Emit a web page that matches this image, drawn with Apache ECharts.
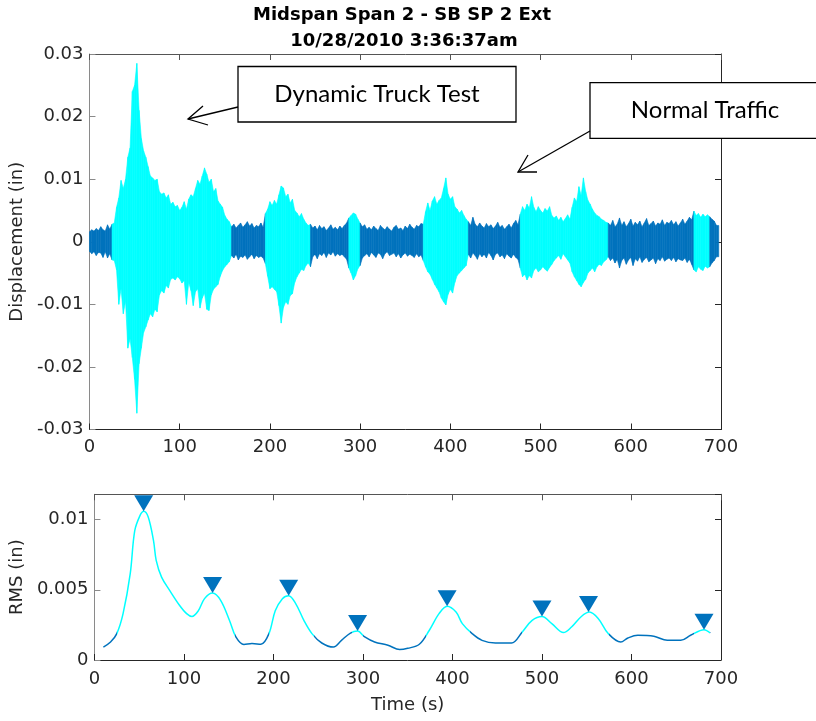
<!DOCTYPE html>
<html>
<head>
<meta charset="utf-8">
<title>Midspan Span 2 - SB SP 2 Ext</title>
<script src="https://cdn.jsdelivr.net/npm/echarts@6/dist/echarts.min.js"></script>
<style>
  html, body { margin: 0; padding: 0; background: #ffffff; }
  #chart { width: 816px; height: 721px; }
</style>
</head>
<body>
<div id="chart"></div>
<script>
// Displacement envelope, one bin every 2.5 s starting at t = 0 (values in 0.001 in)
const binSeconds = 2.5;
const upperMil = [
  1.6,1.9,1.7,2.1,1.8,2.4,1.9,1.7,2.7,2.0,                               // 0 - 22.5
  2.8,3.0,5.5,7.0,9.8,8.5,10.0,13.5,15.0,24.0,                           // 25 - 47.5
  25.0,28.5,21.0,16.5,14.5,13.5,12.0,10.5,10.2,9.8,                      // 50 - 72.5
  10.0,8.0,7.6,7.8,7.0,7.5,6.0,6.3,5.6,5.8,                              // 75 - 97.5
  5.0,5.5,6.4,5.2,6.8,7.5,7.2,8.5,9.8,9.2,                               // 100 - 122.5
  10.5,11.8,10.8,9.5,10.0,8.0,8.5,6.5,6.0,5.5,                           // 125 - 147.5
  4.2,3.6,3.2,                                                           // 150 - 155
  2.4,2.8,2.2,2.6,3.0,2.3,2.7,3.2,2.5,2.9,2.2,2.6,2.4,3.0,2.3,           // 157.5 - 192.5
  4.5,5.2,6.4,5.8,6.6,6.0,7.5,8.9,8.6,7.2,7.6,6.2,6.8,5.0,4.6,4.0,4.5,3.6,3.0,2.6, // 195 - 242.5
  2.8,2.2,2.5,1.9,2.6,2.1,2.4,1.8,2.2,2.7,2.0,2.3,1.9,2.5,2.1,2.6,3.0,   // 245 - 285
  3.8,4.2,4.6,4.4,3.6,                                                   // 287.5 - 297.5
  3.0,2.4,2.7,2.0,2.3,1.9,2.5,2.1,1.8,2.6,
  2.2,1.9,2.4,2.0,1.7,2.3,2.6,2.0,2.2,1.8,
  2.5,2.1,2.8,2.3,2.0,2.6,2.4,2.9,                                       // 300 - 367.5
  2.8,4.8,6.2,5.0,6.5,7.2,6.0,6.6,7.0,8.5,10.2,7.6,6.8,7.2,5.6,5.2,4.6,5.0,4.2,3.6, // 370 - 417.5
  3.2,2.6,3.9,2.8,2.4,3.0,2.5,2.2,2.9,2.4,
  2.7,2.1,2.5,3.1,2.3,2.6,2.0,2.4,2.8,2.2,
  2.9,3.4,2.7,                                                           // 420 - 475
  4.4,5.6,5.0,6.0,5.4,7.2,5.5,4.8,5.6,5.0,
  4.6,5.3,4.9,5.6,4.2,3.8,4.1,3.4,3.9,3.2,
  3.7,4.3,3.6,5.5,7.0,6.4,8.8,7.4,10.2,8.0,
  6.6,6.0,5.2,4.6,4.2,4.0,3.6,3.4,3.1,                                   // 477.5 - 572.5
  3.0,2.6,3.4,2.4,2.8,3.8,2.6,3.2,2.4,2.9,
  3.6,2.5,3.1,2.7,3.3,2.4,3.0,3.7,2.6,2.9,
  3.3,2.5,3.0,2.8,3.5,2.6,3.1,2.9,3.4,2.7,
  3.2,2.5,3.0,3.6,2.8,3.3,3.9,3.5,                                       // 575 - 667.5
  4.9,4.2,4.5,3.9,4.4,4.0,4.3,                                           // 670 - 685
  4.0,3.6,3.3,2.6                                                        // 687.5 - 695
];
const lowerMil = [
  -1.5,-1.9,-1.6,-2.2,-1.7,-1.8,-2.5,-1.6,-2.6,-1.9,
  -2.9,-3.0,-4.5,-10.0,-7.5,-11.5,-9.5,-17.0,-15.5,-18.5,
  -22.0,-27.4,-19.5,-17.0,-14.5,-13.6,-12.5,-11.5,-12.0,-10.8,
  -11.2,-8.5,-7.8,-8.2,-7.0,-7.4,-6.0,-5.8,-6.1,-5.6,
  -5.9,-6.6,-6.2,-10.0,-6.5,-7.8,-10.2,-8.0,-7.5,-10.6,
  -9.0,-8.2,-10.8,-11.0,-8.5,-7.6,-7.2,-6.8,-5.5,-4.6,
  -4.0,-3.6,-3.2,
  -2.2,-2.6,-2.0,-2.9,-2.3,-2.5,-2.1,-2.8,-2.4,-2.0,-2.7,-2.2,-2.5,-2.3,-2.6,
  -3.5,-5.5,-7.5,-7.2,-7.6,-8.0,-10.2,-13.0,-10.5,-9.6,-10.0,-8.6,-8.3,-6.5,-5.6,-5.0,-4.4,-4.6,-3.8,-3.4,
  -4.0,-2.4,-2.0,-2.7,-1.9,-2.2,-1.7,-2.5,-1.8,-2.1,-1.6,-2.3,-1.9,-2.2,-2.0,-2.4,-2.8,
  -4.2,-5.0,-6.1,-5.4,-4.3,
  -3.8,-2.6,-2.2,-1.9,-2.4,-1.7,-2.1,-2.5,-1.8,-2.0,
  -2.7,-1.9,-1.6,-2.2,-2.0,-1.8,-2.4,-1.9,-2.6,-2.1,
  -1.8,-2.3,-2.0,-2.2,-2.5,-1.9,-2.4,-2.1,
  -3.0,-4.0,-4.8,-5.2,-6.0,-6.8,-7.4,-8.0,-9.0,-9.6,-10.1,-8.4,-7.6,-8.2,-6.5,-5.4,-5.0,-4.6,-4.2,-3.8,
  -2.0,-2.6,-1.8,-2.2,-2.8,-1.9,-2.4,-2.0,-2.6,-1.7,
  -2.2,-2.9,-2.0,-1.8,-2.4,-2.1,-2.7,-1.9,-2.3,-2.6,
  -2.0,-2.5,-2.8,
  -4.2,-5.6,-5.2,-6.1,-5.4,-5.8,-4.6,-4.2,-4.8,-4.5,
  -4.0,-4.4,-4.7,-4.1,-3.6,-3.0,-2.6,-2.2,-2.8,-1.9,
  -2.4,-2.9,-3.4,-4.8,-5.6,-6.2,-6.8,-7.2,-6.5,-6.0,
  -5.0,-4.6,-4.2,-4.8,-4.0,-3.6,-3.8,-3.2,-2.9,
  -2.4,-3.0,-2.6,-3.4,-2.8,-4.2,-3.0,-2.6,-3.6,-2.9,
  -2.5,-3.8,-2.7,-3.1,-2.4,-3.3,-2.8,-2.5,-3.2,-2.9,
  -2.6,-3.5,-2.7,-3.0,-2.4,-3.1,-2.8,-2.6,-3.0,-2.5,
  -3.2,-2.7,-2.9,-3.0,-2.6,-3.3,-2.8,-3.6,
  -4.5,-4.8,-4.0,-4.4,-4.6,-3.9,-4.2,
  -4.0,-3.4,-3.0,-2.4
];

// Time windows (s) recognised as truck events
const truckSpans = [[25, 157.5], [195, 245], [287.5, 300], [370, 420], [477.5, 575], [670, 687.5]];

// Moving RMS of displacement (0.001 in)
const rmsTime = [10,18,25,32,40,45,51,55,60,66,69,75,84,95,103,109,116,123,132,141,151,158,167,176,186,
  195,202,210,217,225,234,243,254,267,276,286,294,302,313,328,341,350,363,374,385,394,404,411,422,433,
  448,466,478,489,500,511,524,533,544,553,563,574,588,596,607,625,640,655,666,681,688];
const rmsMil = [0.92,1.28,1.88,3.3,6.15,9.2,10.3,10.6,10.2,8.5,7.1,5.9,4.96,3.9,3.3,3.1,3.5,4.37,4.77,4.25,2.8,1.64,1.1,1.17,1.12,
  1.88,3.5,4.37,4.58,4.0,2.82,1.88,1.21,0.92,1.4,1.92,2.06,1.64,1.28,1.05,0.74,0.83,1.12,2.1,3.3,3.82,3.41,2.59,1.88,1.4,
  1.21,1.21,2.0,2.82,3.1,2.59,1.95,2.35,3.1,3.41,2.94,1.88,1.28,1.57,1.76,1.69,1.4,1.4,1.76,2.16,1.92];

// Detected RMS peaks
const peakTime = [55, 132, 217, 294, 394, 500, 552, 681];
const peakMil = [10.6, 4.77, 4.58, 2.06, 3.82, 3.1, 3.41, 2.16];

// Axis ranges
const timeAxis = { min: 0, max: 700, interval: 100 };
const dispAxis = { min: -0.03, max: 0.03, interval: 0.01 };
const rmsAxis = { min: 0, max: 0.0118, interval: 0.005 };

const BLUE = '#0072BD';
const CYAN = '#00FFFF';
const INK = '#262626';
const AXIS_FONT = 'DejaVu Sans';

function inTruckSpan(t) {
  return truckSpans.some(s => t >= s[0] && t < s[1]);
}

function tickFormatter(interval) {
  return function (v) {
    const k = v / interval;
    if (Math.abs(k - Math.round(k)) > 1e-6) return '';
    return String(Math.round(v * 1e5) / 1e5);
  };
}

function frame(extra, color) {
  return Object.assign({
    type: 'value',
    axisLine: { show: true, onZero: false, lineStyle: { color: color || INK, width: 1 } },
    axisTick: { show: true, inside: true, length: 6, lineStyle: { color: color || INK } },
    splitLine: { show: false },
    axisLabel: { show: false }
  }, extra);
}

function labelled(range) {
  return {
    show: true, fontSize: 18, color: INK, fontFamily: AXIS_FONT,
    formatter: tickFormatter(range.interval), showMaxLabel: range === rmsAxis ? false : true
  };
}

const envelopeData = upperMil.map((u, i) => [i * binSeconds, u / 1000, lowerMil[i] / 1000]);
const rmsData = rmsTime.map((t, i) => [t, rmsMil[i] / 1000]);
const peakData = peakTime.map((t, i) => [t, peakMil[i] / 1000]);

const chart = echarts.init(document.getElementById('chart'), null, { renderer: 'canvas' });

chart.setOption({
  animation: false,
  backgroundColor: '#ffffff',
  grid: [
    { left: 89, right: 95, top: 54, height: 375.5 },
    { left: 89, right: 95, top: 494.3, height: 165.7 }
  ],
  xAxis: [
    frame(Object.assign({ gridIndex: 0, position: 'bottom',
      axisLabel: Object.assign(labelled(timeAxis), { margin: 9 }) }, timeAxis)),
    frame(Object.assign({ gridIndex: 0, position: 'top' }, timeAxis), '#555'),
    frame(Object.assign({ gridIndex: 1, position: 'bottom',
      axisLabel: Object.assign(labelled(timeAxis), { margin: 10 }),
      name: 'Time (s)', nameLocation: 'middle', nameGap: 36,
      nameTextStyle: { fontSize: 18, color: INK, fontFamily: AXIS_FONT } }, timeAxis)),
    frame(Object.assign({ gridIndex: 1, position: 'top' }, timeAxis), '#555')
  ],
  yAxis: [
    frame(Object.assign({ gridIndex: 0, position: 'left',
      axisLabel: Object.assign(labelled(dispAxis), { margin: 6 }),
      name: 'Displacement (in)', nameLocation: 'middle', nameGap: 59,
      nameTextStyle: { fontSize: 18, color: INK, fontFamily: AXIS_FONT } }, dispAxis), '#8a8a8a'),
    frame(Object.assign({ gridIndex: 0, position: 'right' }, dispAxis)),
    frame(Object.assign({ gridIndex: 1, position: 'left',
      axisLabel: Object.assign(labelled(rmsAxis), { margin: 6 }),
      name: 'RMS (in)', nameLocation: 'middle', nameGap: 62,
      nameTextStyle: { fontSize: 18, color: INK, fontFamily: AXIS_FONT } }, rmsAxis), '#8a8a8a'),
    frame(Object.assign({ gridIndex: 1, position: 'right' }, rmsAxis))
  ],
  visualMap: {
    type: 'piecewise', show: false, seriesIndex: 1, dimension: 0,
    pieces: truckSpans.map(s => ({ gte: s[0], lt: s[1], color: CYAN })),
    outOfRange: { color: BLUE }
  },
  series: [
    {
      // displacement band: each bin joins its extremes to those of the next bin
      type: 'custom',
      xAxisIndex: 0, yAxisIndex: 0,
      data: envelopeData,
      encode: { x: 0, y: [1, 2] },
      renderItem: function (params, api) {
        const i = params.dataIndexInside;
        const j = Math.min(i + 1, params.dataInsideLength - 1);
        const t0 = api.value(0);
        const t1 = t0 + binSeconds;
        const hiNext = j === i ? api.value(1) : api.value(1, j);
        const loNext = j === i ? api.value(2) : api.value(2, j);
        const pts = [
          api.coord([t0, api.value(1)]),
          api.coord([t1, hiNext]),
          api.coord([t1, loNext]),
          api.coord([t0, api.value(2)])
        ];
        const fill = inTruckSpan(t0 + binSeconds / 2) ? CYAN : BLUE;
        return {
          type: 'polygon',
          shape: { points: pts },
          style: { fill: fill, stroke: fill, lineWidth: 0.6 }
        };
      }
    },
    {
      type: 'line',
      xAxisIndex: 2, yAxisIndex: 2,
      data: rmsData,
      smooth: 0.35,
      showSymbol: false,
      lineStyle: { width: 1.5 },
      z: 2
    },
    {
      type: 'scatter',
      xAxisIndex: 2, yAxisIndex: 2,
      data: peakData,
      symbol: 'triangle',
      symbolRotate: 180,
      symbolSize: [19, 16],
      symbolOffset: [0, -8],
      itemStyle: { color: BLUE, opacity: 1 },
      clip: false,
      z: 3
    }
  ],
  graphic: [
    { type: 'text', x: 402, y: 15, z: 10,
      style: { text: 'Midspan Span 2 - SB SP 2 Ext', font: 'bold 18px "DejaVu Sans"', fill: '#000',
        align: 'center', verticalAlign: 'middle' } },
    { type: 'text', x: 404, y: 41, z: 10,
      style: { text: '10/28/2010 3:36:37am', font: 'bold 18px "DejaVu Sans"', fill: '#000',
        align: 'center', verticalAlign: 'middle' } },
    // "Dynamic Truck Test" callout
    { type: 'rect', z: 10, shape: { x: 238, y: 66.5, width: 278, height: 55.5 },
      style: { fill: '#ffffff', stroke: '#000', lineWidth: 1.3 } },
    { type: 'text', z: 11, x: 377, y: 94,
      style: { text: 'Dynamic Truck Test', font: '24px Lato', fill: '#000', align: 'center', verticalAlign: 'middle' } },
    { type: 'polyline', z: 10, shape: { points: [[238, 107], [188, 119]] },
      style: { stroke: '#000', lineWidth: 1.3, fill: null } },
    { type: 'polyline', z: 10, shape: { points: [[203, 106], [188, 119], [208, 125]] },
      style: { stroke: '#000', lineWidth: 1.3, fill: null } },
    // "Normal Traffic" callout
    { type: 'rect', z: 10, shape: { x: 590, y: 82.7, width: 240, height: 55.6 },
      style: { fill: '#ffffff', stroke: '#000', lineWidth: 1.3 } },
    { type: 'text', z: 11, x: 705, y: 110.5,
      style: { text: 'Normal Traffic', font: '24px Lato', fill: '#000', align: 'center', verticalAlign: 'middle' } },
    { type: 'polyline', z: 10, shape: { points: [[590, 131], [518, 172]] },
      style: { stroke: '#000', lineWidth: 1.3, fill: null } },
    { type: 'polyline', z: 10, shape: { points: [[528, 155], [518, 172], [537, 172]] },
      style: { stroke: '#000', lineWidth: 1.3, fill: null } }
  ]
});
</script>
</body>
</html>
